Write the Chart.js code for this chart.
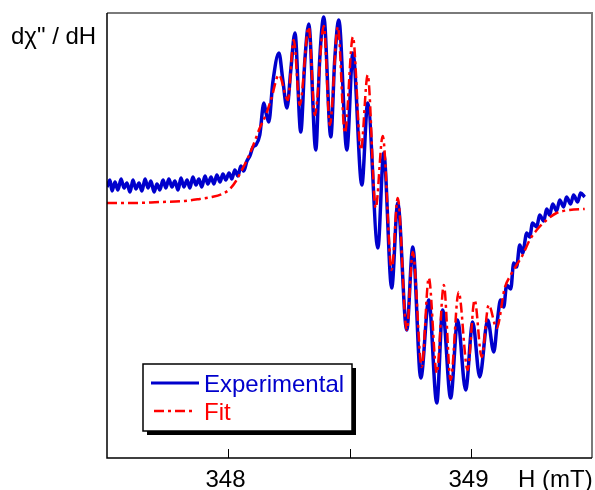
<!DOCTYPE html>
<html>
<head>
<meta charset="utf-8">
<script src="https://cdn.jsdelivr.net/npm/chart.js@4"></script>
<style>
  html, body { margin: 0; padding: 0; background: #fff; }
  #wrap { width: 595px; height: 490px; }
</style>
</head>
<body>
<div id="wrap"><canvas id="esr"></canvas></div>
<script>
// champ magnetique (mT) et signal derive (unites arbitraires)
const expField = [347.500, 347.512, 347.521, 347.533, 347.545, 347.558, 347.570, 347.582, 347.595, 347.607,
  347.619, 347.632, 347.644, 347.657, 347.669, 347.681, 347.694, 347.706, 347.718, 347.731,
  347.743, 347.755, 347.768, 347.780, 347.793, 347.805, 347.817, 347.830, 347.842, 347.854,
  347.867, 347.879, 347.891, 347.904, 347.916, 347.929, 347.941, 347.953, 347.966, 347.978,
  347.990, 348.003, 348.015, 348.027, 348.040, 348.052, 348.064, 348.077, 348.089, 348.102,
  348.114, 348.130, 348.147, 348.155, 348.167, 348.184, 348.209, 348.225, 348.242, 348.258,
  348.275, 348.299, 348.316, 348.332, 348.361, 348.377, 348.394, 348.423, 348.439, 348.456,
  348.489, 348.514, 348.551, 348.575, 348.617, 348.641, 348.674, 348.699, 348.736, 348.761,
  348.794, 348.827, 348.860, 348.884, 348.917, 348.946, 348.979, 349.008, 349.037, 349.070,
  349.095, 349.111, 349.123, 349.136, 349.148, 349.165, 349.177, 349.189, 349.202, 349.214,
  349.231, 349.243, 349.255, 349.272, 349.284, 349.301, 349.313, 349.325, 349.338, 349.354,
  349.367, 349.383, 349.395, 349.412, 349.424, 349.441, 349.453, 349.470];
const expSignal = [-2, 5, -6, 3, -5, 6, -3, 2, -7, 5,
  -4, 2, -6, 6, -3, 4, -7, 1, -5, 5,
  -3, 6, -2, 4, -5, 7, -2, 5, -3, 8,
  0, 6, -2, 9, 1, 8, 1, 10, 3, 11,
  5, 12, 6, 15, 9, 19, 14, 24, 29, 38,
  40, 50, 82, 73, 63, 103, 132, 105, 77, 115,
  152, 53, 125, 161, 35, 125, 168, 48, 125, 165,
  35, 132, 0, 82, -63, 32, -103, -18, -145, -62,
  -193, -115, -218, -125, -213, -135, -205, -137, -192, -135,
  -167, -133, -115, -122, -100, -104, -78, -82, -60, -68,
  -48, -52, -38, -42, -30, -36, -24, -30, -19, -26,
  -15, -22, -12, -19, -10, -17, -8, -12];

const fitField = [347.500, 347.595, 347.718, 347.821, 347.883, 347.933, 347.974, 348.007, 348.032, 348.052,
  348.077, 348.102, 348.130, 348.155, 348.176, 348.209, 348.246, 348.270, 348.295, 348.332,
  348.357, 348.394, 348.419, 348.452, 348.481, 348.514, 348.547, 348.575, 348.608, 348.637,
  348.674, 348.699, 348.736, 348.761, 348.798, 348.827, 348.860, 348.889, 348.917, 348.950,
  348.987, 349.016, 349.045, 349.074, 349.107, 349.140, 349.165, 349.189, 349.214, 349.243,
  349.272, 349.313, 349.354, 349.408, 349.470];
const fitSignal = [-18, -18, -17, -16, -14, -12, -9, -4, 4, 13,
  25, 39, 57, 70, 85, 110, 85, 145, 80, 158,
  70, 159, 60, 158, 52, 148, 35, 110, -23, 49,
  -85, -13, -145, -67, -182, -93, -188, -100, -195, -107,
  -185, -115, -172, -120, -143, -103, -90, -80, -70, -55,
  -45, -35, -28, -25, -24];

const fieldTicks = [348, 348.5, 349];
const fieldLabels = ['348', '', '349'];
const seriesNames = ['Experimental', 'Fit'];

const BLUE = '#0000cc';
const RED = '#ff0000';
const FONT = '24px "Liberation Sans", Arial, sans-serif';

function pairs(xs, ys) {
  return xs.map((x, i) => ({ x: x, y: ys[i] }));
}

// cadre, graduations, titres et legende
const decorPlugin = {
  id: 'decor',
  afterDraw(chart) {
    const ctx = chart.ctx;
    const a = chart.chartArea;
    const xs = chart.scales.x;
    ctx.save();

    // cadre : haut/droite gris, gauche/bas noir
    ctx.lineWidth = 2;
    ctx.strokeStyle = '#7a7a7a';
    ctx.beginPath();
    ctx.moveTo(a.left, a.top);
    ctx.lineTo(a.right, a.top);
    ctx.lineTo(a.right, a.bottom);
    ctx.stroke();
    ctx.strokeStyle = '#000';
    ctx.lineWidth = 1.5;
    ctx.beginPath();
    ctx.moveTo(a.left, a.top);
    ctx.lineTo(a.left, a.bottom);
    ctx.lineTo(a.right, a.bottom);
    ctx.stroke();

    // graduations vers l'interieur
    ctx.lineWidth = 1;
    ctx.fillStyle = '#000';
    ctx.font = FONT;
    ctx.textAlign = 'center';
    ctx.textBaseline = 'alphabetic';
    fieldTicks.forEach((t, i) => {
      const px = Math.round(xs.getPixelForValue(t)) + 0.5;
      ctx.beginPath();
      ctx.moveTo(px, a.bottom);
      ctx.lineTo(px, a.bottom - 9);
      ctx.stroke();
      if (fieldLabels[i]) ctx.fillText(fieldLabels[i], px - 3, 487);
    });

    ctx.textAlign = 'left';
    ctx.fillText('H (mT)', 518, 487);
    ctx.fillText('dχ" / dH', 11, 44);

    // legende avec ombre
    const bx = 143, by = 364, bw = 209, bh = 67;
    ctx.fillStyle = '#000';
    ctx.fillRect(bx + 4, by + 4, bw, bh);
    ctx.fillStyle = '#fff';
    ctx.fillRect(bx, by, bw, bh);
    ctx.strokeStyle = '#000';
    ctx.lineWidth = 1.5;
    ctx.strokeRect(bx, by, bw, bh);

    ctx.lineWidth = 3;
    ctx.strokeStyle = BLUE;
    ctx.beginPath();
    ctx.moveTo(151, 383);
    ctx.lineTo(199, 383);
    ctx.stroke();

    ctx.lineWidth = 2.5;
    ctx.strokeStyle = RED;
    ctx.setLineDash([10, 4, 3, 4]);
    ctx.beginPath();
    ctx.moveTo(154, 411);
    ctx.lineTo(194, 411);
    ctx.stroke();
    ctx.setLineDash([]);

    ctx.fillStyle = BLUE;
    ctx.fillText(seriesNames[0], 204, 392);
    ctx.fillStyle = RED;
    ctx.fillText(seriesNames[1], 204, 420);

    ctx.restore();
  }
};

new Chart(document.getElementById('esr').getContext('2d'), {
  type: 'scatter',
  data: {
    datasets: [{
      label: seriesNames[1],
      data: pairs(fitField, fitSignal),
      showLine: true,
      borderColor: RED,
      borderWidth: 2.5,
      borderDash: [10, 4, 3, 4],
      pointRadius: 0,
      cubicInterpolationMode: 'monotone'
    }, {
      label: seriesNames[0],
      data: pairs(expField, expSignal),
      showLine: true,
      borderColor: BLUE,
      borderWidth: 3.5,
      pointRadius: 0,
      cubicInterpolationMode: 'monotone'
    }]
  },
  options: {
    responsive: true,
    maintainAspectRatio: false,
    animation: false,
    layout: { padding: { left: 107, right: 3, top: 13, bottom: 32 } },
    scales: {
      x: { type: 'linear', min: 347.5, max: 349.5, display: false },
      y: { min: -273, max: 172, display: false }
    },
    plugins: {
      legend: { display: false },
      tooltip: { enabled: false }
    }
  },
  plugins: [decorPlugin]
});
</script>
</body>
</html>
